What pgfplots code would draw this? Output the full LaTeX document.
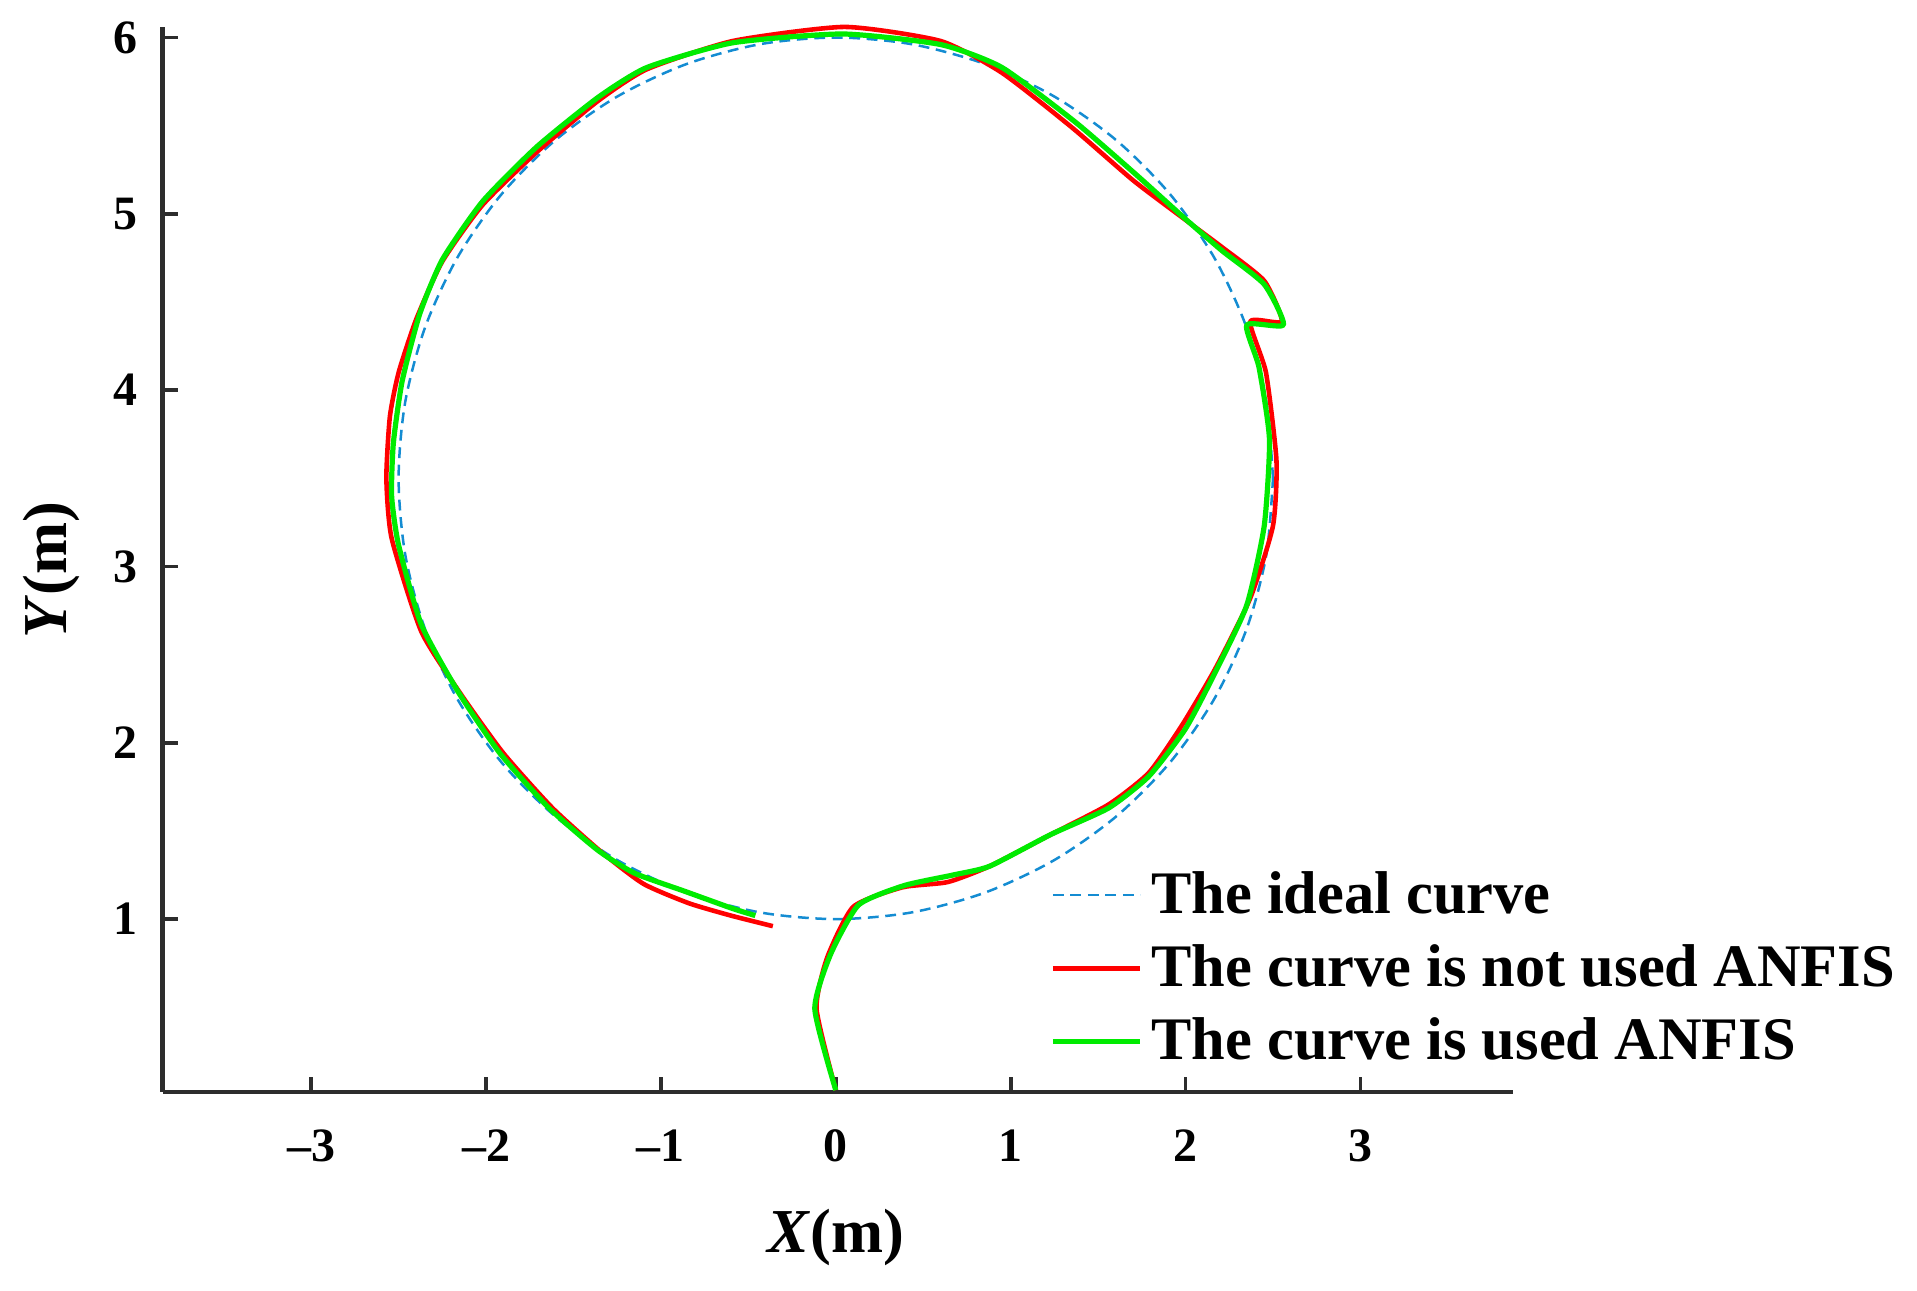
\documentclass[border=0pt]{standalone}
\usepackage{pgfplots}
\pgfplotsset{compat=1.18}
\usepackage{fontspec}
\setmainfont{Liberation Serif}
\definecolor{idealblue}{RGB}{20,140,210}
\definecolor{pathred}{RGB}{255,0,0}
\definecolor{pathgreen}{RGB}{0,235,0}
\definecolor{axgray}{RGB}{45,45,45}

\begin{document}
\begin{tikzpicture}
\begin{axis}[
    scale only axis,
    width=324pt, height=255.6pt,
    xmin=-3.85, xmax=3.87,
    ymin=0.02, ymax=6.06,
    axis x line*=bottom, axis y line*=left,
    axis line style={line width=1.1pt, draw=axgray},
    tick align=inside,
    major tick length=3.6pt,
    tick style={line width=0.9pt, draw=axgray},
    xtick={-3,-2,-1,0,1,2,3},
    xticklabels={\textendash3,\textendash2,\textendash1,0,1,2,3},
    ytick={1,2,3,4,5,6},
    /pgf/number format/assume math mode=true,
    ticklabel style={font=\bfseries\fontsize{11.5}{13}\selectfont},
    xticklabel style={yshift=-5.6pt},
    yticklabel style={xshift=-2.5pt},
    xlabel={\textit{X}(m)},
    ylabel={\textit{Y}(m)},
    every axis x label/.style={at={(axis description cs:0.499,-0.137)}, anchor=center, font=\bfseries\fontsize{15}{17}\selectfont},
    every axis y label/.style={at={(axis description cs:-0.0824,0.49)}, anchor=center, rotate=90, font=\bfseries\fontsize{15}{17}\selectfont},
    legend style={draw=none, fill=none, at={(0.657,0.116)}, anchor=west,
        font=\bfseries\fontsize{14.5}{17}\selectfont, inner sep=0pt, row sep=2pt},
    legend cell align=left,
    legend image code/.code={\draw[#1] (0pt,0pt) -- (21pt,0pt);},
    line join=round,
    clip=false,
]
% ideal circle, centre (0,3.5), radius 2.5
\addplot[idealblue, line width=0.6pt, dash pattern=on 2.6pt off 1.6pt, smooth] coordinates {
    (2.5,3.5) (2.462,3.934) (2.349,4.355) (2.165,4.75) (1.915,5.107) (1.607,5.415)
    (1.25,5.665) (0.855,5.849) (0.434,5.962) (0,6) (-0.434,5.962) (-0.855,5.849)
    (-1.25,5.665) (-1.607,5.415) (-1.915,5.107) (-2.165,4.75) (-2.349,4.355) (-2.462,3.934)
    (-2.5,3.5) (-2.462,3.066) (-2.349,2.645) (-2.165,2.25) (-1.915,1.893) (-1.607,1.585)
    (-1.25,1.335) (-0.855,1.151) (-0.434,1.038) (0,1) (0.434,1.038) (0.855,1.151)
    (1.25,1.335) (1.607,1.585) (1.915,1.893) (2.165,2.25) (2.349,2.645) (2.462,3.066)
    (2.5,3.5)
};
\addlegendentry{The ideal curve}
% without ANFIS
\addplot[pathred, line width=1.1pt, smooth, tension=0.35] coordinates {
    (0,0.03) (-0.11,0.49) (-0.05,0.78) (0.10,1.07) (0.38,1.18) (0.64,1.21)
    (0.88,1.30) (1.23,1.48) (1.56,1.65) (1.79,1.83) (1.98,2.10) (2.17,2.42)
    (2.37,2.82) (2.50,3.23) (2.52,3.60) (2.46,4.10) (2.37,4.39) (2.55,4.39)
    (2.45,4.62) (2.21,4.81) (1.98,4.98) (1.70,5.19) (1.35,5.49) (0.95,5.80)
    (0.60,5.98) (0.05,6.06) (-0.59,5.98) (-1.08,5.82) (-1.36,5.64) (-1.71,5.35)
    (-2.02,5.05) (-2.25,4.73) (-2.40,4.40) (-2.50,4.10) (-2.55,3.85) (-2.57,3.50)
    (-2.54,3.16) (-2.37,2.63) (-2.14,2.27) (-1.90,1.94) (-1.62,1.63) (-1.34,1.38)
    (-1.10,1.20) (-0.84,1.09) (-0.60,1.02) (-0.36,0.96)
};
\addlegendentry{The curve is not used ANFIS}
% with ANFIS
\addplot[pathgreen, line width=1.25pt, smooth, tension=0.35] coordinates {
    (0,0.03) (-0.12,0.49) (-0.03,0.80) (0.13,1.08) (0.39,1.19) (0.67,1.25)
    (0.88,1.30) (1.23,1.48) (1.56,1.63) (1.79,1.81) (2.00,2.08) (2.17,2.40)
    (2.35,2.78) (2.45,3.23) (2.48,3.72) (2.42,4.13) (2.35,4.37) (2.56,4.37)
    (2.45,4.60) (2.21,4.79) (2.00,4.97) (1.72,5.22) (1.37,5.52) (0.95,5.83)
    (0.60,5.96) (0.04,6.02) (-0.59,5.97) (-1.08,5.83) (-1.36,5.66) (-1.71,5.38)
    (-2.02,5.07) (-2.25,4.74) (-2.38,4.43) (-2.48,4.05) (-2.53,3.70) (-2.54,3.40)
    (-2.50,3.12) (-2.37,2.67) (-2.16,2.29) (-1.92,1.94) (-1.64,1.63) (-1.36,1.39)
    (-1.15,1.26) (-0.87,1.16) (-0.59,1.06) (-0.46,1.02)
};
\addlegendentry{The curve is used ANFIS}
\coordinate (bl) at (rel axis cs:-0.1204,-0.1861);
\coordinate (tr) at (rel axis cs:1.2996,1.0253);
\end{axis}
\pgfresetboundingbox
\path (bl) rectangle (tr);
\end{tikzpicture}
\end{document}
